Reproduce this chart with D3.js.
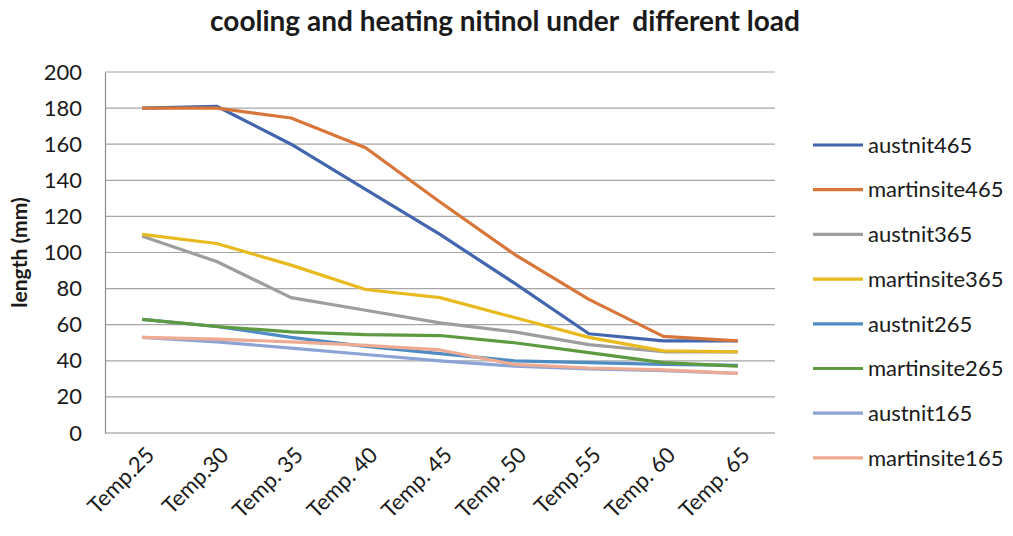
<!DOCTYPE html>
<html>
<head>
<meta charset="utf-8">
<script src="https://cdn.jsdelivr.net/npm/d3@7"></script>
<style>
  html, body { margin: 0; padding: 0; background: #ffffff; }
  svg { display: block; }
  text { font-family: Lato, "Open Sans", "Liberation Sans", sans-serif; fill: #1a1a1a; }
</style>
</head>
<body>
<svg id="chart" width="1013" height="536"></svg>
<script>
// Temperature steps on the x axis
const categories = ["Temp.25", "Temp.30", "Temp. 35", "Temp. 40", "Temp. 45", "Temp. 50", "Temp.55", "Temp. 60", "Temp. 65"];

// Wire length (mm) for each load, heating (austnit) and cooling (martinsite)
const austnit465     = [180, 181, 160, 135, 110, 83, 55, 51, 51];
const martinsite465  = [180, 180, 174.5, 158, 128, 99, 74, 53.5, 51];
const austnit365     = [109, 95, 75, 68, 61, 56, 49, 45, 45];
const martinsite365  = [110, 105, 93, 79.5, 75, 64, 53, 45.5, 45];
const austnit265     = [63, 59, 53, 48, 44, 40, 39, 38, 37.5];
const martinsite265  = [63, 59, 56, 54.5, 54, 50, 44.5, 39, 37];
const austnit165     = [53, 50.5, 47, 43.5, 40, 37, 35.5, 34.5, 33];
const martinsite165  = [53, 52, 50.5, 48.5, 46, 38, 36, 35, 33];

const seriesNames = ["austnit465", "martinsite465", "austnit365", "martinsite365",
                     "austnit265", "martinsite265", "austnit165", "martinsite165"];
const seriesValues = [austnit465, martinsite465, austnit365, martinsite365,
                      austnit265, martinsite265, austnit165, martinsite165];
const seriesColors = ["#4166AE", "#D8763A", "#9E9E9E", "#E9BA1E",
                      "#4E8CC6", "#5E9A40", "#8CA3D6", "#EEAB91"];

const yTicks = [0, 20, 40, 60, 80, 100, 120, 140, 160, 180, 200];

const svg = d3.select("#chart");
const plot = { left: 105, right: 775, top: 72, bottom: 433 };

const x = d3.scalePoint()
  .domain(categories)
  .range([plot.left, plot.right])
  .padding(0.5);

const y = d3.scaleLinear()
  .domain([0, 200])
  .range([plot.bottom, plot.top]);

// Title
svg.append("text")
  .attr("x", 505).attr("y", 31)
  .attr("text-anchor", "middle")
  .attr("xml:space", "preserve")
  .style("font-size", "28px")
  .style("font-weight", "bold")
  .text("cooling and heating nitinol under  different load");

// Horizontal gridlines
svg.append("g")
  .selectAll("line")
  .data(yTicks.filter(d => d > 0))
  .join("line")
  .attr("x1", plot.left).attr("x2", plot.right)
  .attr("y1", d => y(d)).attr("y2", d => y(d))
  .attr("stroke", "#a6a6a6")
  .attr("stroke-width", 1.2);

// Y axis
const yAxis = svg.append("g")
  .attr("transform", `translate(${plot.left},0)`)
  .call(d3.axisLeft(y).tickValues(yTicks).tickSize(0).tickPadding(23));
yAxis.select(".domain").attr("stroke", "#8c8c8c").attr("stroke-width", 1.2);
yAxis.selectAll("text")
  .style("font-size", "22px")
  .style("font-family", "Lato, 'Open Sans', sans-serif")
  .attr("fill", "#1a1a1a");

// X axis
const xAxis = svg.append("g")
  .attr("transform", `translate(0,${plot.bottom})`)
  .call(d3.axisBottom(x).tickSize(0).tickFormat(() => ""));
xAxis.select(".domain")
  .attr("d", `M${plot.left},0H${plot.right}`)
  .attr("stroke", "#8c8c8c").attr("stroke-width", 1.2);

svg.append("g")
  .selectAll("text")
  .data(categories)
  .join("text")
  .attr("transform", d => `translate(${x(d) + 8},${plot.bottom + 18}) rotate(-45)`)
  .attr("text-anchor", "end")
  .attr("dy", "0.35em")
  .style("font-size", "22px")
  .text(d => d);

// Y axis title
svg.append("text")
  .attr("transform", `translate(27,${(plot.top + plot.bottom) / 2}) rotate(-90)`)
  .attr("text-anchor", "middle")
  .style("font-size", "21px")
  .style("font-weight", "bold")
  .text("length (mm)");

// Lines
const line = d3.line()
  .x((d, i) => x(categories[i]))
  .y(d => y(d));

svg.append("g")
  .selectAll("path")
  .data(seriesValues.map((v, i) => ({ name: seriesNames[i], values: v, color: seriesColors[i] })))
  .join("path")
  .attr("d", d => line(d.values))
  .attr("fill", "none")
  .attr("stroke", d => d.color)
  .attr("stroke-width", 3.2)
  .attr("stroke-linejoin", "round");

// Legend
const legend = svg.append("g")
  .selectAll("g")
  .data(seriesNames)
  .join("g")
  .attr("transform", (d, i) => `translate(813,${145 + i * 44.7})`);

legend.append("line")
  .attr("x1", 0).attr("x2", 50)
  .attr("stroke", (d, i) => seriesColors[i])
  .attr("stroke-width", 3.2);

legend.append("text")
  .attr("x", 55)
  .attr("dy", "0.35em")
  .style("font-size", "22px")
  .text(d => d);
</script>
</body>
</html>
